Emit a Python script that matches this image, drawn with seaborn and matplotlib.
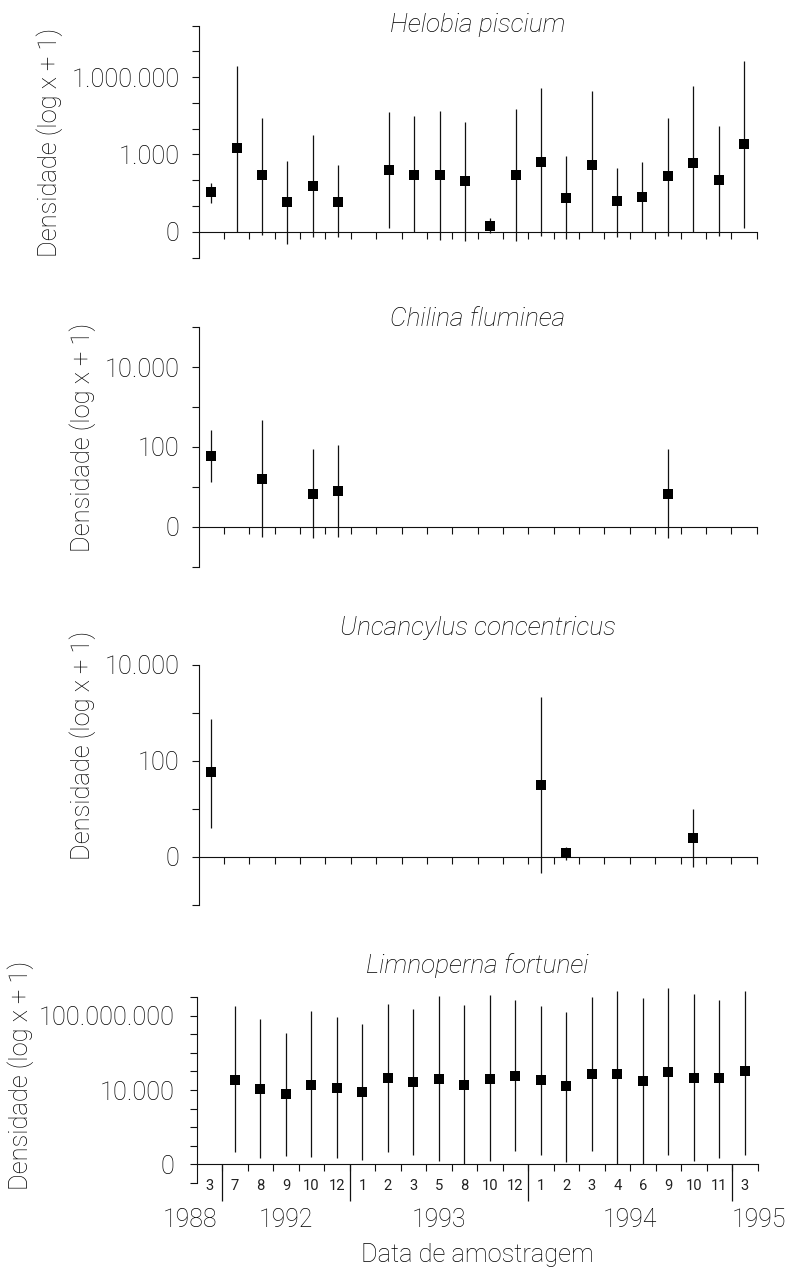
import numpy as np
import pandas as pd
import matplotlib
matplotlib.use("Agg")
import matplotlib.pyplot as plt
import seaborn as sns

W, H = 787, 1269
nan = np.nan

# Sampling dates (month numbers) and the year bands below the last panel
months = [3, 7, 8, 9, 10, 12, 1, 2, 3, 5, 8, 10, 12, 1, 2, 3, 4, 6, 9, 10, 11, 3]
years = ["1988", "1992", "1993", "1994", "1995"]
year_pos = [-0.75, 3.0, 9.0, 16.5, 21.55]
year_breaks = [0.5, 5.5, 12.5, 20.5]

# Mean density and error-bar limits, in log10(x + 1) units
helobia_mean = [1.53, 3.26, 2.20, 1.14, 1.78, 1.14, nan, 2.40, 2.22, 2.22, 1.98,
                0.23, 2.22, 2.71, 1.32, 2.61, 1.19, 1.34, 2.15, 2.67, 2.02, 3.40]
helobia_lo = [1.12, 0.00, -0.14, -0.49, -0.19, -0.19, nan, 0.16, 0.00, -0.32, -0.35,
              -0.05, -0.35, -0.17, -0.27, 0.00, -0.19, 0.00, -0.17, 0.00, -0.17, 0.16]
helobia_hi = [1.88, 6.43, 4.43, 2.74, 3.75, 2.60, nan, 4.65, 4.48, 4.69, 4.28,
              0.54, 4.76, 5.60, 2.93, 5.45, 2.47, 2.71, 4.40, 5.64, 4.09, 6.63]

chilina_mean = [1.78, nan, 1.21, nan, 0.83, 0.89, nan, nan, nan, nan, nan,
                nan, nan, nan, nan, nan, nan, nan, 0.83, nan, nan, nan]
chilina_lo = [1.13, nan, -0.25, nan, -0.29, -0.25, nan, nan, nan, nan, nan,
              nan, nan, nan, nan, nan, nan, nan, -0.27, nan, nan, nan]
chilina_hi = [2.42, nan, 2.67, nan, 1.96, 2.06, nan, nan, nan, nan, nan,
              nan, nan, nan, nan, nan, nan, nan, 1.96, nan, nan, nan]

uncancylus_mean = [1.77, nan, nan, nan, nan, nan, nan, nan, nan, nan, nan,
                   nan, nan, 1.50, 0.075, nan, nan, nan, nan, 0.40, nan, nan]
uncancylus_lo = [0.60, nan, nan, nan, nan, nan, nan, nan, nan, nan, nan,
                 nan, nan, -0.33, -0.06, nan, nan, nan, nan, -0.21, nan, nan]
uncancylus_hi = [2.88, nan, nan, nan, nan, nan, nan, nan, nan, nan, nan,
                 nan, nan, 3.33, 0.21, nan, nan, nan, nan, 0.99, nan, nan]

limnoperna_mean = [nan, 4.56, 4.06, 3.76, 4.26, 4.12, 3.88, 4.63, 4.44, 4.61, 4.26,
                   4.61, 4.74, 4.54, 4.21, 4.87, 4.87, 4.47, 4.97, 4.65, 4.63, 5.04]
limnoperna_lo = [nan, 0.67, 0.32, 0.46, 0.39, 0.34, 0.25, 0.67, 0.51, 0.19, 0.00,
                 0.19, 0.73, 0.50, 0.14, 0.71, 0.00, 0.00, 0.50, 0.19, 0.37, 0.50]
limnoperna_hi = [nan, 8.50, 7.81, 7.04, 8.24, 7.95, 7.56, 8.63, 8.34, 9.07, 8.57,
                 9.10, 8.82, 8.54, 8.20, 8.98, 9.34, 8.95, 9.47, 9.14, 8.82, 9.32]

helobia_yticks = {0: "0", 3: "1.000", 6: "1.000.000"}
chilina_yticks = {0: "0", 2: "100", 4: "10.000"}
uncancylus_yticks = {0: "0", 2: "100", 4: "10.000"}
limnoperna_yticks = {0: "0", 4: "10.000", 8: "100.000.000"}

ylabel_text = "Densidade (log x + 1)"
xlabel_text = "Data de amostragem"

panels = [
    dict(name="Helobia piscium", mean=helobia_mean, lo=helobia_lo, hi=helobia_hi,
         yticks=helobia_yticks, ylim=(-1, 8),
         box=(198.7, 756.6, 25.7, 257.5), title_y=31.7, ylab=(50, 142.5), pad=9),
    dict(name="Chilina fluminea", mean=chilina_mean, lo=chilina_lo, hi=chilina_hi,
         yticks=chilina_yticks, ylim=(-1, 5),
         box=(198.7, 756.6, 327.3, 566.7), title_y=326, ylab=(83, 437), pad=9),
    dict(name="Uncancylus concentricus", mean=uncancylus_mean, lo=uncancylus_lo,
         hi=uncancylus_hi, yticks=uncancylus_yticks, ylim=(-1, 4),
         box=(198.7, 756.6, 665, 905), title_y=635, ylab=(83, 745), pad=9),
    dict(name="Limnoperna fortunei", mean=limnoperna_mean, lo=limnoperna_lo,
         hi=limnoperna_hi, yticks=limnoperna_yticks, ylim=(-1, 9),
         box=(196.7, 757.7, 997, 1183), title_y=973.3, ylab=(21, 1075), pad=11),
]

sns.set_theme(style="ticks")
plt.rcParams["font.family"] = ["Roboto", "Liberation Sans", "DejaVu Sans"]
plt.rcParams["font.weight"] = "light"
ink = "black"
line_ink = "#111111"

fig = plt.figure(figsize=(W / 100, H / 100), dpi=100)
fig.patch.set_facecolor("white")

n_cat = len(months)
axes = []
for p in panels:
    l, r, t, b = p["box"]
    ax = fig.add_axes([l / W, 1 - b / H, (r - l) / W, (b - t) / H])
    ax.set_facecolor("white")
    df = pd.DataFrame({"pos": np.arange(n_cat), "mean": p["mean"],
                       "lo": p["lo"], "hi": p["hi"]}).dropna()
    ax.vlines(df["pos"], df["lo"], df["hi"], color=line_ink, lw=0.9,
              clip_on=False, zorder=2)
    sns.scatterplot(data=df, x="pos", y="mean", marker="s", s=62, color="black",
                    linewidth=0, ax=ax, clip_on=False, zorder=3)
    ax.set_xlim(-0.5, n_cat - 0.5)
    ax.set_ylim(*p["ylim"])
    ax.set_xlabel("")
    ax.set_ylabel("")
    for side in ("top", "right"):
        ax.spines[side].set_visible(False)
    ax.spines["bottom"].set_position(("data", 0))
    for side in ("left", "bottom"):
        ax.spines[side].set_linewidth(0.8)
        ax.spines[side].set_color(line_ink)
    ax.set_xticks(np.arange(0.5, n_cat, 1.0))
    ax.set_xticklabels([])
    yt = np.arange(p["ylim"][0], p["ylim"][1] + 1)
    ax.set_yticks(yt)
    ax.set_yticklabels([p["yticks"].get(int(v), "") for v in yt])
    ax.tick_params(axis="both", direction="out", length=4.8, width=0.8, color=line_ink)
    ax.tick_params(axis="y", labelsize=18.3, pad=p["pad"], labelcolor=ink)
    ax.grid(False)
    cx = (l + r) / 2
    fig.text(cx / W, 1 - p["title_y"] / H, p["name"], ha="center", va="baseline",
             fontsize=18.9, style="italic", color=ink)
    fig.text(p["ylab"][0] / W, 1 - p["ylab"][1] / H, ylabel_text, rotation=90,
             ha="center", va="center", fontsize=18.4, color=ink)
    axes.append(ax)

# Month and year labels under the last panel
ax = axes[-1]
for i, m in enumerate(months):
    ax.text(i, -1.37, str(m), ha="center", va="baseline", fontsize=10.6,
            fontweight="normal", color="#222222", clip_on=False)
ax.vlines(year_breaks, -1.95, 0, color=line_ink, lw=0.9, clip_on=False)
for yr, xp in zip(years, year_pos):
    ax.text(xp, -3.37, yr, ha="center", va="baseline", fontsize=17.8, color=ink,
            clip_on=False)
l, r, t, b = panels[-1]["box"]
fig.text(((l + r) / 2) / W, 1 - 1261.7 / H, xlabel_text, ha="center", va="baseline",
         fontsize=18.3, color=ink)

fig.savefig("out.png", dpi=100, facecolor="white")
